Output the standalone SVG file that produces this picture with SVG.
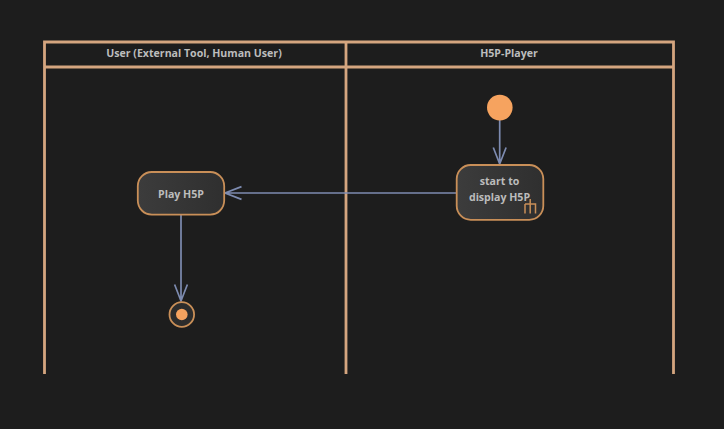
<svg xmlns="http://www.w3.org/2000/svg" width="724" height="429" viewBox="0 0 724 429">
<style>
text{font-family:"Open Sans","Noto Sans",sans-serif;font-weight:700;font-size:10.600px;fill:#bcbcbc;text-anchor:middle}
.lane{fill:none;stroke:#d4a57f;stroke-width:2.800}
.state{fill:url(#g);stroke:#c98f58;stroke-width:1.800}
.conn{fill:none;stroke:#7d8bb0;stroke-width:1.700}
</style>
<defs>
<linearGradient id="g" x1="0" y1="0" x2="1" y2="0"><stop offset="0" stop-color="#3c3c3c"/><stop offset="1" stop-color="#2f2f2f"/></linearGradient>
</defs>
<rect width="724" height="429" fill="#1d1d1d"/>
<g id="lanes">
<path class="lane" d="M44.500 374V42H673.500V374M44.500 67H673.500M346 42V374"/>
<text x="194" y="57">User (External Tool, Human User)</text>
<text x="509" y="57">H5P-Player</text>
</g>
<g id="connectors">
<path class="conn" d="M499.700 120V164M493.300 147.500L499.700 164L506.100 147.500"/>
<path class="conn" d="M456 193H225M241.500 186.600L225 193L241.500 199.400"/>
<path class="conn" d="M181 215V301M174.600 284.500L181 301L187.400 284.500"/>
</g>
<g id="start"><circle cx="499.800" cy="107.600" r="12.800" fill="#f6a35f"/></g>
<g id="display">
<rect class="state" x="456.700" y="165" width="86.600" height="54.800" rx="14"/>
<text x="499.500" y="185">start to</text>
<text x="499.500" y="201">display H5P</text>
<path d="M525 213.500V204M525 204H535.500V213.500M530.200 199V213.500" fill="none" stroke="#c98f58" stroke-width="1.500"/>
</g>
<g id="play">
<rect class="state" x="137.800" y="172" width="86.400" height="42.600" rx="14"/>
<text x="181" y="198">Play H5P</text>
</g>
<g id="end">
<circle cx="181.800" cy="314.500" r="12.300" fill="#2c2c2c" stroke="#c98f58" stroke-width="1.800"/>
<circle cx="181.800" cy="314.500" r="5.800" fill="#f6a35f"/>
</g>
</svg>
